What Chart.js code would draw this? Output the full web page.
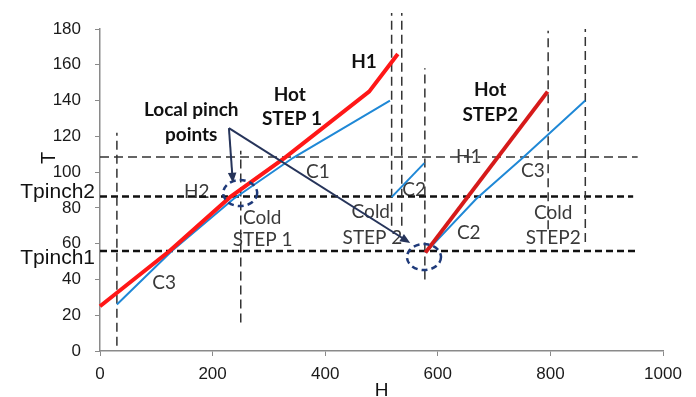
<!DOCTYPE html>
<html>
<head>
<meta charset="utf-8">
<script src="https://cdn.jsdelivr.net/npm/chart.js@4.4.1/dist/chart.umd.min.js"></script>
<style>
  html, body { margin: 0; padding: 0; background: #fff; }
  #wrap { width: 696px; height: 397px; }
</style>
</head>
<body>
<div id="wrap"><canvas id="grafico" width="696" height="397"></canvas></div>
<script>
// ticks
const xTicks = [0, 200, 400, 600, 800, 1000];
const yTicks = [0, 20, 40, 60, 80, 100, 120, 140, 160, 180];

// curvas compostas (H, T)
const hotStep1H = [0, 124, 231, 328, 478, 529];
const hotStep1T = [25, 56, 86, 108, 145, 166];
const coldStep1H = [30, 128, 237, 343, 515];
const coldStep1T = [26, 56, 85, 108, 140];
const coldC2H = [518, 576];
const coldC2T = [86, 105];
const hotStep2H = [578, 795];
const hotStep2T = [55, 145];
const coldStep2H = [578, 668, 751, 862];
const coldStep2T = [55, 85, 108, 140];

// linhas tracejadas
const vLineH = [30, 250, 518, 536, 577, 796, 862];
const vLineTop = [122, 112, 189, 189, 158, 179, 180];
const vLineBottom = [3, 16, 70, 70, 40, 68, 61];
const hLineT = [108.4, 86.4, 55.9];
const hLineEnd = [955, 947, 955];
const hLinePinch = [false, true, true];

// textos soltos no gráfico
const notes = [
  { text: 'Local pinch', h: 162, t: 134.7, bold: true },
  { text: 'points', h: 162, t: 120.7, bold: true },
  { text: 'Hot', h: 337, t: 143, bold: true },
  { text: 'STEP 1', h: 341, t: 129.7, bold: true },
  { text: 'H1', h: 469, t: 161.5, bold: true },
  { text: 'Hot', h: 693, t: 146, bold: true },
  { text: 'STEP2', h: 693, t: 132, bold: true },
  { text: 'H1', h: 655, t: 108.4 },
  { text: 'C3', h: 769, t: 100.6 },
  { text: 'C1', h: 387, t: 100 },
  { text: 'H2', h: 172, t: 89 },
  { text: 'C2', h: 558, t: 90 },
  { text: 'Cold', h: 288, t: 74.3 },
  { text: 'STEP 1', h: 289, t: 62 },
  { text: 'Cold', h: 481, t: 77.7 },
  { text: 'STEP 2', h: 484, t: 63.2 },
  { text: 'C2', h: 655, t: 66 },
  { text: 'Cold', h: 805, t: 77 },
  { text: 'STEP2', h: 805, t: 63 },
  { text: 'C3', h: 114, t: 38 }
];
const sideLabels = [
  { text: 'Tpinch2', t: 89 },
  { text: 'Tpinch1', t: 52 }
];
const pinchCircles = [
  { h: 249, t: 88.3 },
  { h: 575.5, t: 52.5 }
];
const arrowFrom = { h: 229, t: 124.6 };
const arrowTo = [
  { h: 236, t: 94 },
  { h: 551, t: 60.4 }
];

function pontos(hs, ts) {
  return hs.map((h, i) => ({ x: h, y: ts[i] }));
}

function linha(data, color, width, dash) {
  return {
    data: data,
    showLine: true,
    borderColor: color,
    backgroundColor: color,
    borderWidth: width,
    borderDash: dash || [],
    pointRadius: 0,
    fill: false,
    clip: false
  };
}

const datasets = [];
datasets.push(linha(pontos(hotStep1H, hotStep1T), '#ff1717', 4));
datasets.push(linha(pontos(hotStep2H, hotStep2T), '#d61a1a', 4));
datasets.push(linha(pontos(coldStep1H, coldStep1T), '#1f88d6', 2));
datasets.push(linha(pontos(coldC2H, coldC2T), '#1f88d6', 2));
datasets.push(linha(pontos(coldStep2H, coldStep2T), '#1f88d6', 2));
vLineH.forEach((h, i) => {
  datasets.push(linha([{ x: h, y: vLineBottom[i] }, { x: h, y: vLineTop[i] }], '#333', 1.5, [9, 5]));
});
hLineT.forEach((t, i) => {
  if (hLinePinch[i]) {
    datasets.push(linha([{ x: 0, y: t }, { x: hLineEnd[i], y: t }], '#111', 2.5, [7, 4]));
  } else {
    datasets.push(linha([{ x: 0, y: t }, { x: hLineEnd[i], y: t }], '#333', 1.5, [9, 5]));
  }
});

function seta(ctx, x0, y0, x1, y1) {
  const ang = Math.atan2(y1 - y0, x1 - x0);
  const len = 11;
  ctx.beginPath();
  ctx.moveTo(x0, y0);
  ctx.lineTo(x1 - Math.cos(ang) * len * 0.8, y1 - Math.sin(ang) * len * 0.8);
  ctx.stroke();
  ctx.beginPath();
  ctx.moveTo(x1, y1);
  ctx.lineTo(x1 - len * Math.cos(ang - 0.4), y1 - len * Math.sin(ang - 0.4));
  ctx.lineTo(x1 - len * Math.cos(ang + 0.4), y1 - len * Math.sin(ang + 0.4));
  ctx.closePath();
  ctx.fill();
}

const anotacoes = {
  id: 'anotacoes',
  beforeDatasetsDraw(chart) {
    const { ctx, scales: { x, y }, chartArea } = chart;
    ctx.save();
    ctx.textAlign = 'center';
    ctx.textBaseline = 'middle';
    notes.forEach(n => {
      ctx.font = (n.bold ? 'bold ' : '') + '19px Lato';
      ctx.fillStyle = n.bold ? '#111' : '#3a3a3a';
      ctx.fillText(n.text, x.getPixelForValue(n.h), y.getPixelForValue(n.t));
    });
    ctx.font = '21px "Liberation Sans"';
    ctx.fillStyle = '#111';
    ctx.textAlign = 'right';
    sideLabels.forEach(s => {
      ctx.fillText(s.text, chartArea.left - 5, y.getPixelForValue(s.t));
    });
    // titulo do eixo T
    ctx.translate(49, y.getPixelForValue(108));
    ctx.rotate(-Math.PI / 2);
    ctx.textAlign = 'center';
    ctx.font = '20px "Liberation Sans"';
    ctx.fillText('T', 0, 0);
    ctx.restore();
  },
  afterDatasetsDraw(chart) {
    const { ctx, scales: { x, y } } = chart;
    ctx.save();
    ctx.strokeStyle = '#1f3a7a';
    ctx.lineWidth = 2.5;
    ctx.setLineDash([6, 4]);
    pinchCircles.forEach(c => {
      ctx.beginPath();
      ctx.ellipse(x.getPixelForValue(c.h), y.getPixelForValue(c.t), 17, 13, 0, 0, Math.PI * 2);
      ctx.stroke();
    });
    ctx.setLineDash([]);
    ctx.strokeStyle = '#26345a';
    ctx.fillStyle = '#26345a';
    ctx.lineWidth = 2;
    const x0 = x.getPixelForValue(arrowFrom.h), y0 = y.getPixelForValue(arrowFrom.t);
    arrowTo.forEach(a => {
      seta(ctx, x0, y0, x.getPixelForValue(a.h), y.getPixelForValue(a.t));
    });
    ctx.restore();
  }
};

const tickFont = { family: '"Liberation Sans", Arial, sans-serif', size: 17 };

new Chart(document.getElementById('grafico').getContext('2d'), {
  type: 'scatter',
  data: { datasets: datasets },
  options: {
    responsive: false,
    animation: false,
    layout: { padding: { left: 0, right: 33, top: 29, bottom: 0 } },
    plugins: {
      legend: { display: false },
      tooltip: { enabled: false }
    },
    scales: {
      x: {
        type: 'linear',
        min: 0,
        max: 1000,
        afterBuildTicks: axis => { axis.ticks = xTicks.map(v => ({ value: v })); },
        afterFit: axis => { axis.height = 46; },
        ticks: { color: '#1a1a1a', font: tickFont, padding: 8, maxRotation: 0, callback: v => String(v) },
        grid: { drawOnChartArea: false, drawTicks: true, tickLength: 5, color: '#8a8a8a' },
        border: { color: '#8a8a8a', width: 1.5 },
        title: { display: true, text: 'H', color: '#111', font: { family: '"Liberation Sans", Arial', size: 19 }, padding: { top: 0, bottom: -5 } }
      },
      y: {
        type: 'linear',
        min: 0,
        max: 180,
        afterBuildTicks: axis => { axis.ticks = yTicks.map(v => ({ value: v })); },
        afterFit: axis => { axis.width = 100; },
        ticks: { color: '#1a1a1a', font: tickFont, padding: 14, callback: v => String(v) },
        grid: { drawOnChartArea: false, drawTicks: true, tickLength: 5, color: '#8a8a8a' },
        border: { color: '#8a8a8a', width: 1.5 }
      }
    }
  },
  plugins: [anotacoes]
});
</script>
</body>
</html>
